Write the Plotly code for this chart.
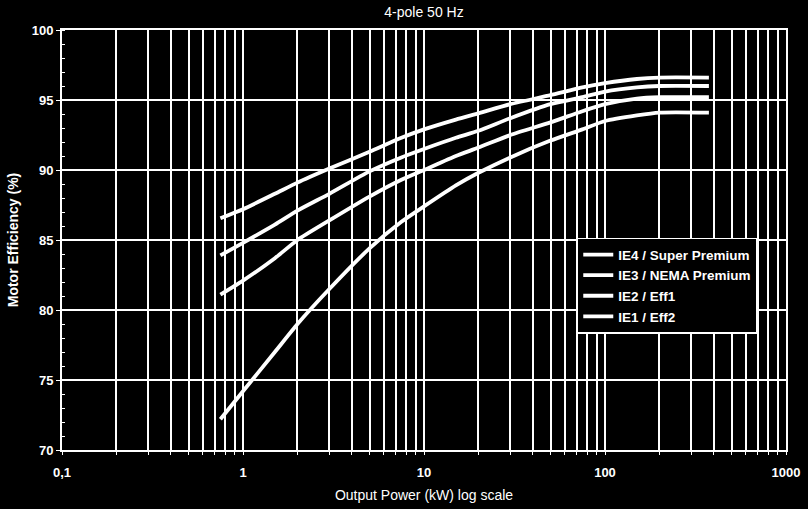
import plotly.graph_objects as go

power_kw = [0.75, 1, 1.5, 2, 3, 5, 7.5, 10, 15, 20, 30, 50, 75, 100, 150, 200, 375]
ie4 = [86.55, 87.2, 88.3, 89.1, 90.1, 91.3, 92.3, 92.9, 93.6, 94.05, 94.7, 95.35, 95.9, 96.2, 96.5, 96.6, 96.6]
ie3 = [83.9, 84.8, 86.1, 87.1, 88.3, 89.9, 90.9, 91.5, 92.3, 92.8, 93.7, 94.7, 95.2, 95.6, 95.9, 96.0, 96.0]
ie2 = [81.1, 82.1, 83.7, 85.0, 86.4, 88.1, 89.3, 90.0, 91.0, 91.6, 92.5, 93.4, 94.2, 94.7, 95.1, 95.2, 95.2]
ie1 = [72.2, 74.2, 77.0, 79.0, 81.5, 84.4, 86.3, 87.4, 88.9, 89.8, 90.9, 92.1, 92.9, 93.5, 93.9, 94.1, 94.1]
series_names = ["IE4 / Super Premium", "IE3 / NEMA Premium", "IE2 / Eff1", "IE1 / Eff2"]

x_grid_vals = [m * 10 ** e for e in (-1, 0, 1, 2) for m in range(1, 10)] + [1000]
x_major_labels = {0.1: "0,1", 1: "1", 10: "10", 100: "100", 1000: "1000"}
x_tick_text = [x_major_labels.get(round(v, 6), "") for v in x_grid_vals]
y_tick_vals = [70, 75, 80, 85, 90, 95, 100]

fig = go.Figure()
for name, vals in zip(series_names, [ie4, ie3, ie2, ie1]):
    fig.add_trace(go.Scatter(x=power_kw, y=vals, mode="lines", name=name,
                             line=dict(color="white", width=3.8, shape="spline", smoothing=0.6)))

font_family = "Liberation Sans, Arial, sans-serif"
fig.update_layout(
    width=808, height=509,
    paper_bgcolor="black", plot_bgcolor="black",
    margin=dict(l=62, r=22, t=30, b=59),
    title=dict(text="4-pole 50 Hz", x=(62 + 786) / 2 / 808, xanchor="center", y=1 - 12 / 509, yanchor="middle",
               font=dict(family=font_family, size=14, color="white")),
    font=dict(family=font_family, color="white"),
    showlegend=True,
    legend=dict(x=0.711, y=0.505, xanchor="left", yanchor="top", bgcolor="black",
                bordercolor="white", borderwidth=1.5,
                font=dict(family=font_family, size=13.5, color="white", weight="bold"),
                itemwidth=30, tracegroupgap=0),
)
fig.update_xaxes(type="log", range=[-1, 3], tickmode="array", tickvals=x_grid_vals, ticktext=x_tick_text,
                 showgrid=True, gridcolor="white", gridwidth=2, zeroline=False, automargin=False,
                 showline=True, linecolor="white", linewidth=2, mirror=True,
                 ticks="outside", ticklen=3, tickcolor="white", ticklabelstandoff=6,
                 tickfont=dict(family=font_family, size=13, color="white", weight="bold"),
                 title=dict(text="Output Power (kW) log scale", standoff=12,
                            font=dict(family=font_family, size=14, color="white")))
fig.update_yaxes(range=[70, 100], tickmode="array", tickvals=y_tick_vals,
                 showgrid=True, gridcolor="white", gridwidth=2, zeroline=False, automargin=False,
                 showline=True, linecolor="white", linewidth=2, mirror=True,
                 ticks="outside", ticklen=4, tickcolor="white",
                 minor=dict(dtick=1, ticks="inside", ticklen=3, tickcolor="white", showgrid=False),
                 tickfont=dict(family=font_family, size=13, color="white", weight="bold"),
                 title=dict(text="Motor Efficiency (%)", standoff=10,
                            font=dict(family=font_family, size=14, color="white", weight="bold")))

fig.write_html("out.html")
